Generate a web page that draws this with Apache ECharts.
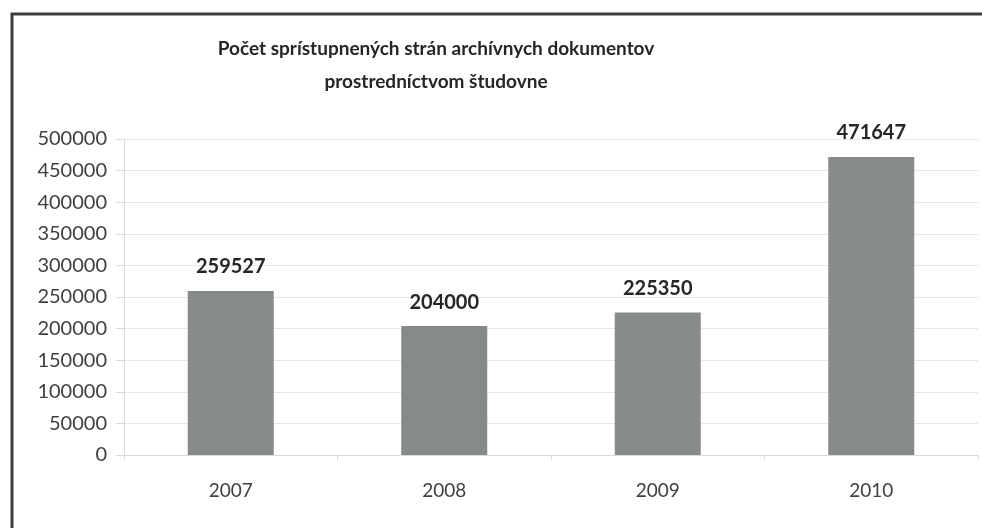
<!DOCTYPE html>
<html>
<head>
    <meta charset="UTF-8">
    <title>Počet sprístupnených strán archívnych dokumentov</title>
    <script src="https://cdn.jsdelivr.net/npm/echarts@6/dist/echarts.min.js"></script>
    <style>
        * { margin: 0; padding: 0; box-sizing: border-box; }
        body { background: #fff; }
        #chart { width: 982px; height: 528px; }
    </style>
</head>
<body>
    <div id="chart"></div>
    <script>
        const years = ['2007', '2008', '2009', '2010'];
        const pages = [259527, 204000, 225350, 471647];
        const titleLines = ['Počet sprístupnených strán archívnych dokumentov', 'prostredníctvom študovne'];

        const chart = echarts.init(document.getElementById('chart'));
        const fontFamily = 'Lato, "Noto Sans", sans-serif';

        chart.setOption({
            animation: false,
            textStyle: { fontFamily: fontFamily },
            // frame: only left and top edges are visible in the source
            graphic: [{
                type: 'polyline',
                shape: { points: [[12, 540], [12, 14], [990, 14]] },
                style: { fill: null, stroke: '#3c3c3c', lineWidth: 3 }
            }],
            title: {
                text: titleLines.join('\n'),
                left: 431,
                top: 27,
                textAlign: 'center',
                textStyle: {
                    fontFamily: fontFamily,
                    fontSize: 19,
                    fontWeight: 'bold',
                    color: '#262626',
                    lineHeight: 33
                }
            },
            grid: {
                left: 124,
                right: 4,
                top: 139,
                bottom: 73,
                containLabel: false
            },
            xAxis: {
                type: 'category',
                data: years,
                axisLine: { lineStyle: { color: '#d9d9d9', width: 1 } },
                axisTick: { show: true, length: 5, lineStyle: { color: '#d9d9d9' } },
                axisLabel: { color: '#404040', fontSize: 19, margin: 26 }
            },
            yAxis: {
                type: 'value',
                min: 0,
                max: 500000,
                interval: 50000,
                axisLine: { show: true, lineStyle: { color: '#d9d9d9' } },
                axisTick: { show: true, length: 8, lineStyle: { color: '#d9d9d9' } },
                axisLabel: {
                    color: '#404040',
                    fontSize: 20,
                    margin: 17,
                    formatter: function (v) { return String(v); }
                },
                splitLine: { lineStyle: { color: '#e6e6e6' } }
            },
            series: [{
                type: 'bar',
                data: pages,
                barWidth: 86,
                itemStyle: { color: '#878a8b' },
                label: {
                    show: true,
                    position: 'top',
                    distance: 14,
                    color: '#262626',
                    fontSize: 20,
                    fontWeight: 'bold'
                }
            }]
        });
    </script>
</body>
</html>
